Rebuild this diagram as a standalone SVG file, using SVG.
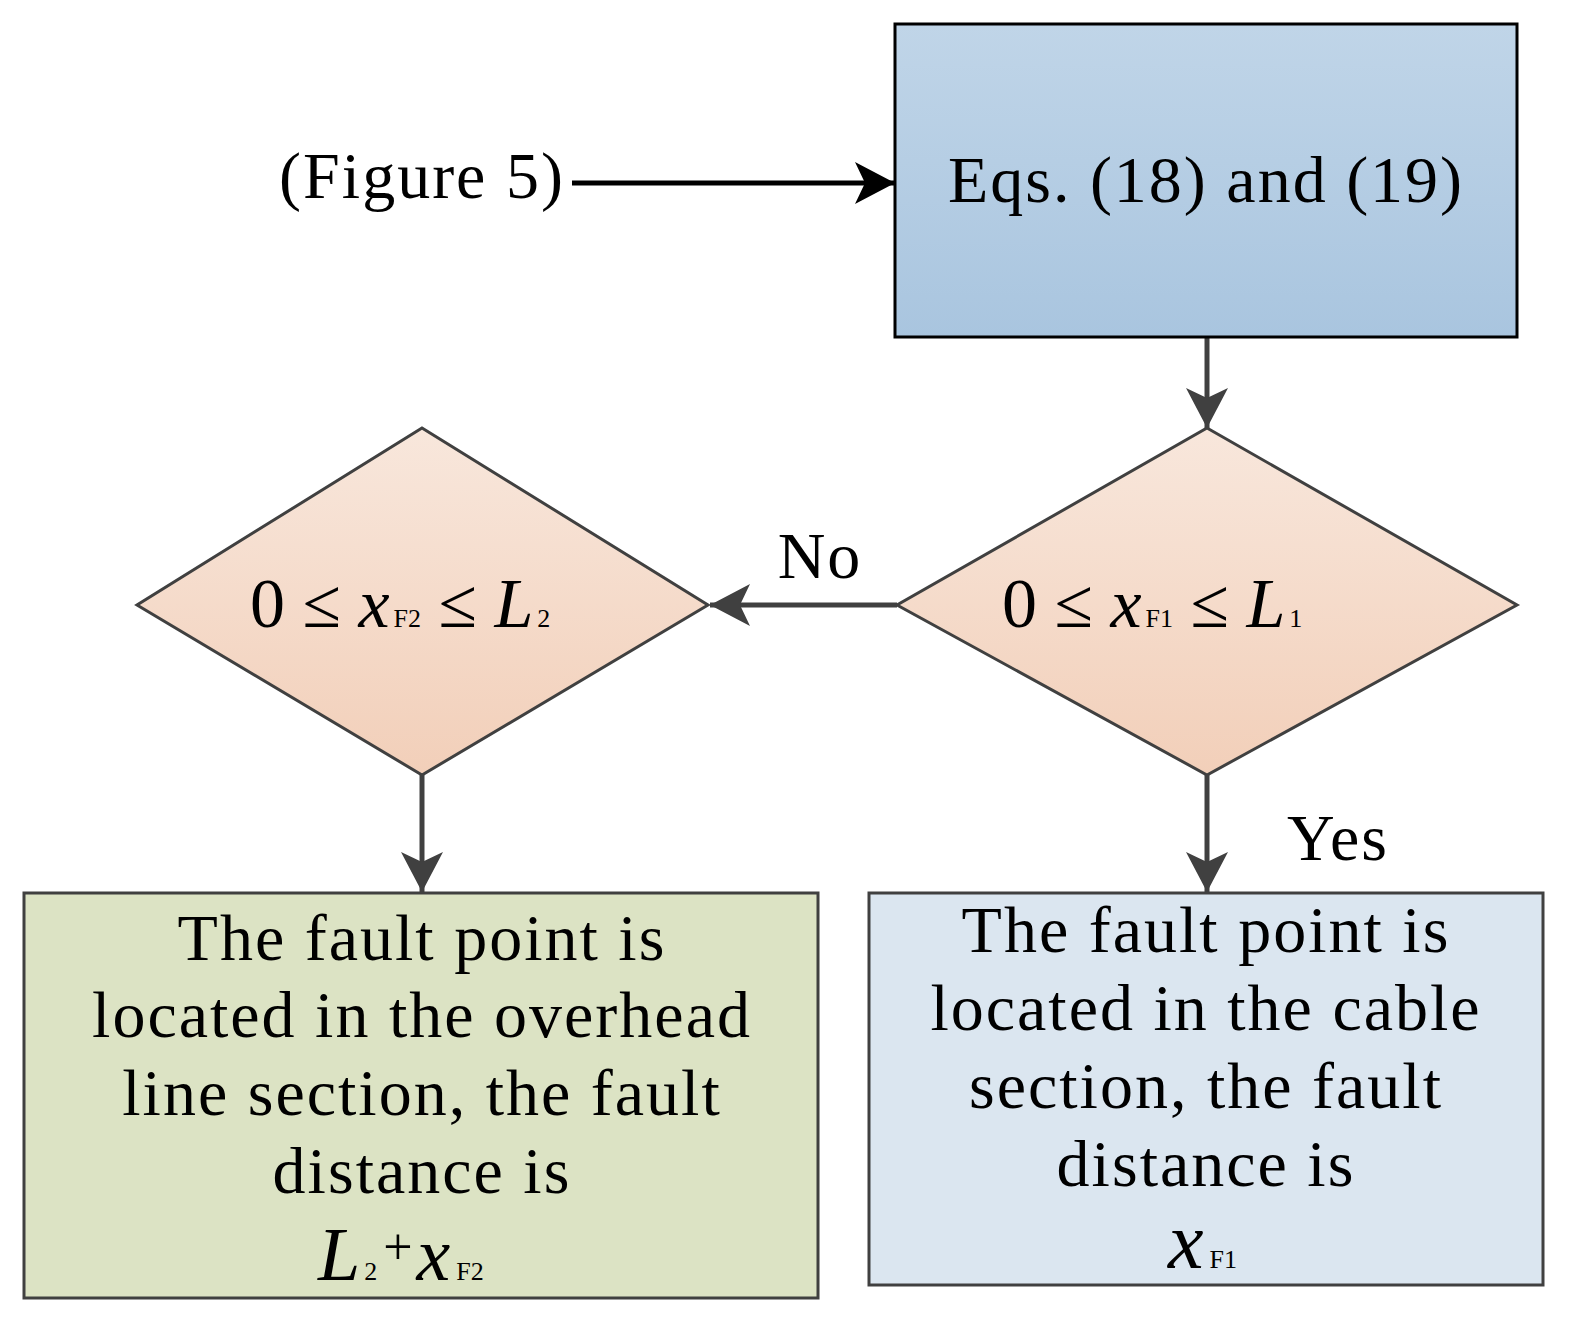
<svg xmlns="http://www.w3.org/2000/svg" width="1590" height="1335" viewBox="0 0 1590 1335">
<defs>
<linearGradient id="gb" x1="0" y1="0" x2="0" y2="1"><stop offset="0" stop-color="#c0d5e8"/><stop offset="1" stop-color="#a9c5df"/></linearGradient>
<linearGradient id="gp" x1="0" y1="0" x2="0" y2="1"><stop offset="0" stop-color="#f8e7dc"/><stop offset="1" stop-color="#f2cfb9"/></linearGradient>
<marker id="ag" markerWidth="42" markerHeight="42" refX="40" refY="21" orient="auto" markerUnits="userSpaceOnUse" viewBox="0 0 42 42"><path d="M0,0 L40,21 L0,42 L10,21 z" fill="#404040"/></marker>
<marker id="ak" markerWidth="42" markerHeight="42" refX="40" refY="21" orient="auto" markerUnits="userSpaceOnUse" viewBox="0 0 42 42"><path d="M0,0 L40,21 L0,42 L10,21 z" fill="#000"/></marker>
</defs>
<style>
text{font-family:"Liberation Serif","DejaVu Serif",serif;fill:#000}
.t{font-size:66px;text-anchor:middle;letter-spacing:2px}
.c{stroke:#404040;stroke-width:5;fill:none}
</style>
<rect width="1590" height="1335" fill="#fff"/>
<g id="connectors">
<path d="M572,183 H895" stroke="#000" stroke-width="5" fill="none" marker-end="url(#ak)"/>
<path class="c" d="M1207,337 V428" marker-end="url(#ag)"/>
<path class="c" d="M897,605 H710" marker-end="url(#ag)"/>
<path class="c" d="M422,775 V892" marker-end="url(#ag)"/>
<path class="c" d="M1207,775 V892" marker-end="url(#ag)"/>
<text x="820" y="578" class="t">No</text>
<text x="1338" y="860" class="t">Yes</text>
</g>
<g id="start"><text x="422" y="198" class="t">(Figure 5)</text></g>
<g id="eqs">
<rect x="895" y="24" width="622" height="313" fill="url(#gb)" stroke="#000" stroke-width="3"/>
<text x="1206" y="202" class="t">Eqs. (18) and (19)</text>
</g>
<g id="d1">
<path d="M1207,428 L1517,605 L1207,775 L897,605 Z" fill="url(#gp)" stroke="#404040" stroke-width="3"/>
<text x="1002" y="627" font-size="70" xml:space="preserve">0 ≤ <tspan font-style="italic">x</tspan><tspan font-size="26" dx="4">F1</tspan> ≤ <tspan font-style="italic">L</tspan><tspan font-size="26" dx="4">1</tspan></text>
</g>
<g id="d2">
<path d="M422,428 L708,605 L422,775 L137,605 Z" fill="url(#gp)" stroke="#404040" stroke-width="3"/>
<text x="250" y="627" font-size="70" xml:space="preserve">0 ≤ <tspan font-style="italic">x</tspan><tspan font-size="26" dx="4">F2</tspan> ≤ <tspan font-style="italic">L</tspan><tspan font-size="26" dx="4">2</tspan></text>
</g>
<g id="overhead">
<rect x="24" y="893" width="794" height="405" fill="#dce3c4" stroke="#404040" stroke-width="3"/>
<text class="t" x="422" y="960">The fault point is</text>
<text class="t" x="422" y="1037">located in the overhead</text>
<text class="t" x="422" y="1115">line section, the fault</text>
<text class="t" x="422" y="1193">distance is</text>
<text x="318" y="1280" font-size="76"><tspan font-style="italic">L</tspan><tspan font-size="26" dx="4">2</tspan><tspan font-size="52" dx="6" dy="-16">+</tspan><tspan font-style="italic" dx="4" dy="16">x</tspan><tspan font-size="26" dx="6">F2</tspan></text>
</g>
<g id="cable">
<rect x="869" y="893" width="674" height="392" fill="#dbe6f0" stroke="#404040" stroke-width="3"/>
<text class="t" x="1206" y="952">The fault point is</text>
<text class="t" x="1206" y="1030">located in the cable</text>
<text class="t" x="1206" y="1108">section, the fault</text>
<text class="t" x="1206" y="1186">distance is</text>
<text x="1168" y="1268" font-size="80"><tspan font-style="italic">x</tspan><tspan font-size="26" dx="6">F1</tspan></text>
</g>
</svg>
